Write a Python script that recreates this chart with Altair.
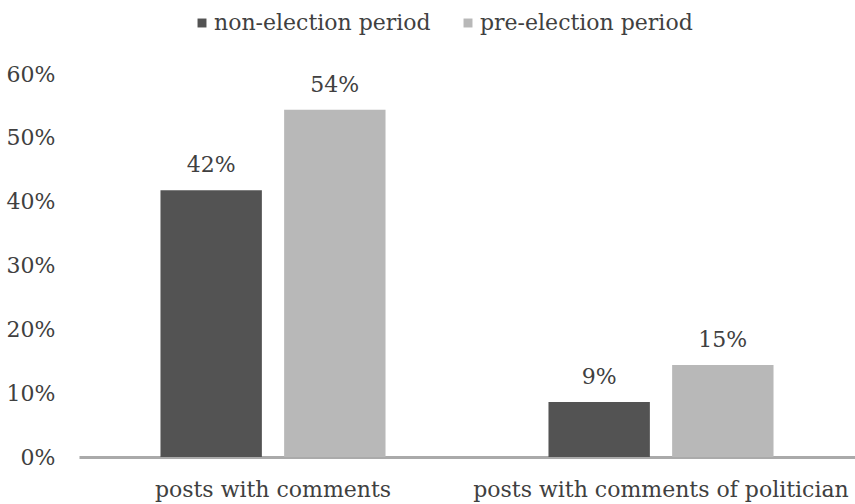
import altair as alt
import pandas as pd

categories = ["posts with comments", "posts with comments of politician"]
periods = ["non-election period", "pre-election period"]
non_election = [41.8, 8.6]
pre_election = [54.4, 14.4]
non_election_labels = ["42%", "9%"]
pre_election_labels = ["54%", "15%"]
period_colors = ["#535353", "#b8b8b8"]
y_ticks = [0, 10, 20, 30, 40, 50, 60]

rows = []
for i, c in enumerate(categories):
    rows.append({"category": c, "period": periods[0], "value": non_election[i], "label": non_election_labels[i]})
    rows.append({"category": c, "period": periods[1], "value": pre_election[i], "label": pre_election_labels[i]})
df = pd.DataFrame(rows)

FONT = "DejaVu Serif"
TXT = "#404040"

x = alt.X("category:N", sort=categories, title=None,
          scale=alt.Scale(paddingInner=0.42, paddingOuter=0.21),
          axis=alt.Axis(labelAngle=0, labelFont=FONT, labelFontSize=22, labelColor=TXT,
                        labelPadding=22, labelLimit=0, ticks=False, domainColor="#aaaaaa", domainWidth=3))
xo = alt.XOffset("period:N", sort=periods, scale=alt.Scale(paddingInner=0.18))
y = alt.Y("value:Q", title=None,
          scale=alt.Scale(domain=[0, 60], nice=False),
          axis=alt.Axis(values=y_ticks, labelExpr="datum.value + '%'", grid=False, domain=False,
                        ticks=False, labelPadding=24, labelFont=FONT, labelFontSize=22,
                        labelColor=TXT))

bars = alt.Chart(df).mark_bar().encode(
    x=x, xOffset=xo, y=y,
    color=alt.Color("period:N", sort=periods, title=None,
                    scale=alt.Scale(domain=periods, range=period_colors),
                    legend=alt.Legend(orient="none", legendX=112, legendY=-62, direction="horizontal",
                                      symbolType="square", symbolSize=80, symbolStrokeWidth=0,
                                      labelFont=FONT, labelFontSize=22, labelColor=TXT, labelLimit=0,
                                      columnPadding=26, symbolOffset=0, labelOffset=1)),
)

text = alt.Chart(df).mark_text(baseline="bottom", dy=-13, font=FONT, fontSize=22, color=TXT).encode(
    x=x, xOffset=xo, y=y, text="label:N"
)

chart = alt.layer(bars, text).properties(
    width=776, height=383,
    autosize=alt.AutoSizeParams(type="none"),
    padding={"left": 79, "top": 74, "right": 0, "bottom": 47},
).configure(background="white").configure_view(stroke=None)

chart.save("out.html", embed_options={"renderer": "svg", "actions": False})
